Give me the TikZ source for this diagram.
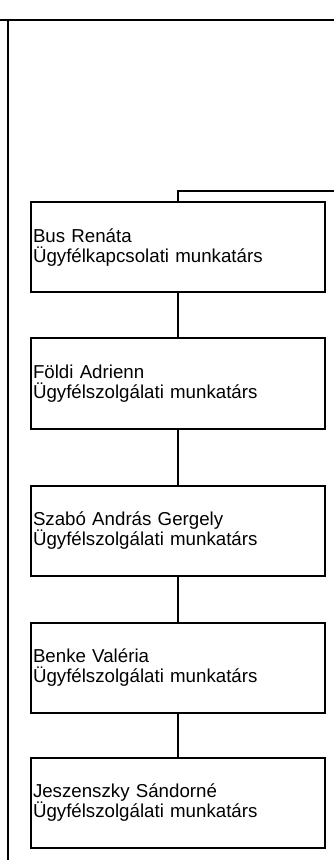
\documentclass[tikz,border=0pt]{standalone}
\usepackage{fontspec}
\setmainfont{Liberation Sans}
\usepackage{tikz}

\begin{document}
\begin{tikzpicture}[x=0.5pt, y=-0.5pt, line width=1pt,
    member/.style={draw, rectangle, text width=145pt, inner xsep=1pt, inner ysep=0pt,
        minimum height=45pt, align=left, font=\fontsize{9.35}{10}\selectfont}]
                \useasboundingbox (0, 0) rectangle (334, 860);

                \draw
                (0, 20) -- (334, 20)
                (8, 20) -- (8, 860);

                \node[member] (bus) at (178, 247.5) {Bus Renáta\\Ügyfélkapcsolati munkatárs};
                \node[member] (foldi) at (178, 383.5) {Földi Adrienn\\Ügyfélszolgálati munkatárs};
                \node[member] (szabo) at (178, 530.5) {Szabó András Gergely\\Ügyfélszolgálati munkatárs};
                \node[member] (benke) at (178, 667.5) {Benke Valéria\\Ügyfélszolgálati munkatárs};
                \node[member] (jeszenszky) at (178, 803) {Jeszenszky Sándorné\\Ügyfélszolgálati munkatárs};

                \coordinate (entry) at (334, 191);
                \draw
                (entry) -| (bus.north)
                (bus) -- (foldi)
                (foldi) -- (szabo)
                (szabo) -- (benke)
                (benke) -- (jeszenszky);
            \end{tikzpicture}
\end{document}
